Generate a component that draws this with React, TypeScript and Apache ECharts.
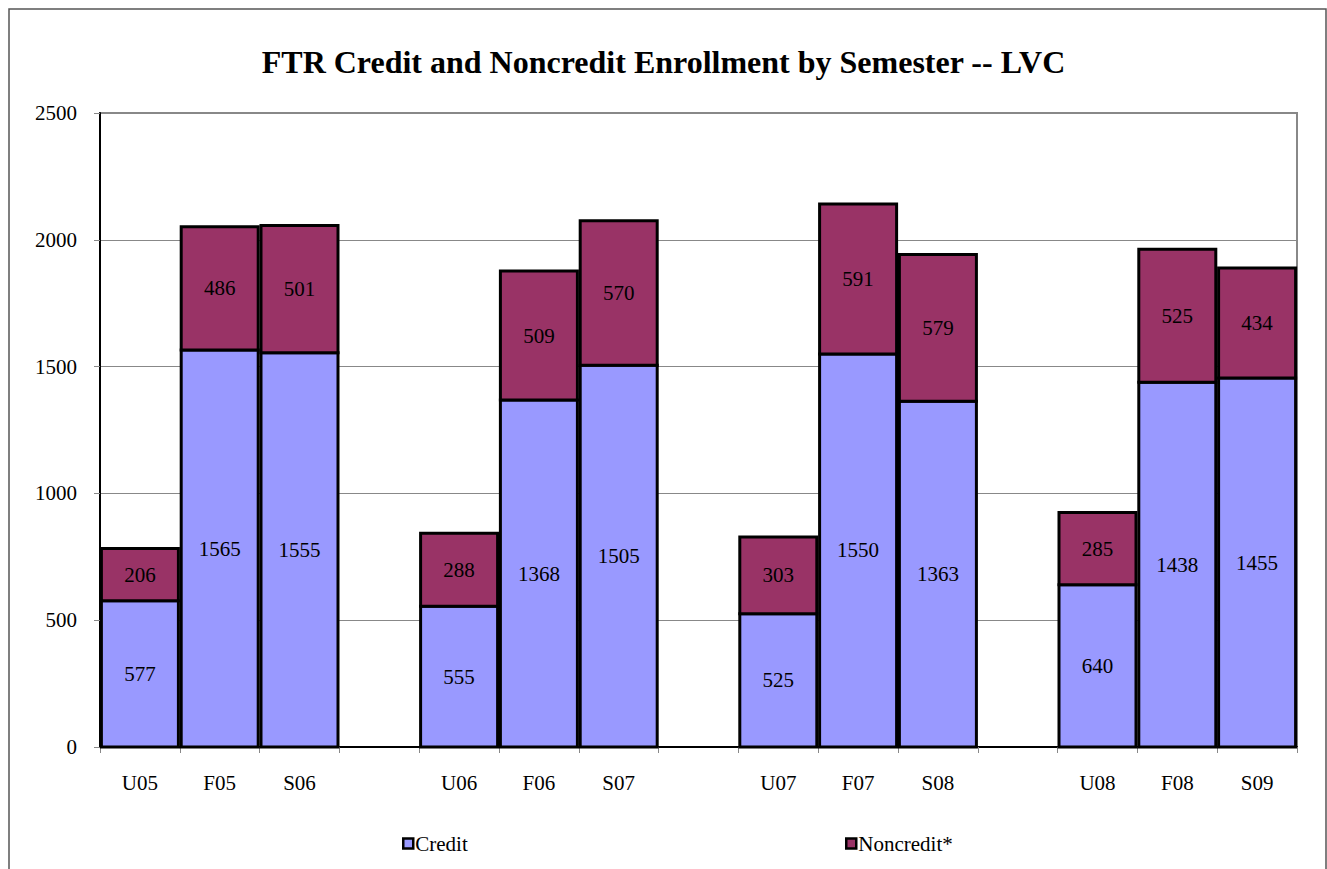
import React, { useEffect, useRef } from "react";
import * as echarts from "echarts";

const categories = ["U05", "F05", "S06", "", "U06", "F06", "S07", "", "U07", "F07", "S08", "", "U08", "F08", "S09"];
const creditValues = [577, 1565, 1555, null, 555, 1368, 1505, null, 525, 1550, 1363, null, 640, 1438, 1455];
const noncreditValues = [206, 486, 501, null, 288, 509, 570, null, 303, 591, 579, null, 285, 525, 434];
const yTicks = { min: 0, max: 2500, interval: 500 };
const titleText = "FTR Credit and Noncredit Enrollment by Semester -- LVC";

const FONT = "'Liberation Serif', 'Times New Roman', serif";
const CREDIT_COLOR = "#9999FF";
const NONCREDIT_COLOR = "#993366";

export default function App() {
  const ref = useRef<HTMLDivElement>(null);
  useEffect(() => {
    const chart = echarts.init(ref.current!, null, { renderer: "svg" });

    const creditData: any[] = [];
    const noncreditData: any[] = [];
    categories.forEach((_, i) => {
      const c = creditValues[i];
      const n = noncreditValues[i];
      if (c != null) creditData.push([i, 0, c, c]);
      if (c != null && n != null) noncreditData.push([i, c, c + n, n]);
    });

    const makeRender = (fill: string) => (params: any, api: any) => {
      const i = api.value(0);
      const lo = api.coord([i, api.value(1)]);
      const hi = api.coord([i, api.value(2)]);
      const w = api.size([1, 0])[0] * 0.965;
      return {
        type: "rect",
        shape: { x: lo[0] - w / 2, y: hi[1], width: w, height: lo[1] - hi[1] },
        style: { fill, stroke: "#000", lineWidth: 3 },
        textContent: {
          style: {
            text: String(api.value(3)),
            fontFamily: FONT,
            fontSize: 21,
            fill: "#000",
          },
        },
        textConfig: { position: "inside" },
      };
    };

    const legendBase = {
      top: 828,
      itemWidth: 10,
      itemHeight: 10,
      itemGap: 2,
      icon: "rect",
      textStyle: { fontFamily: FONT, fontSize: 21, color: "#000", padding: [0, 0, 0, -3] },
    };

    chart.setOption({
      animation: false,
      backgroundColor: "#fff",
      title: {
        text: titleText,
        left: "center",
        top: 41,
        textStyle: { fontFamily: FONT, fontSize: 32, fontWeight: "bold", color: "#000" },
      },
      graphic: [
        {
          type: "rect",
          shape: { x: 9, y: 9, width: 1317, height: 900 },
          style: { fill: "none", stroke: "#555", lineWidth: 1.5 },
          silent: true,
        },
      ],
      legend: [
        {
          ...legendBase,
          left: 397,
          data: [{ name: "Credit", itemStyle: { color: CREDIT_COLOR, borderColor: "#000", borderWidth: 2.5 } }],
        },
        {
          ...legendBase,
          left: 840,
          data: [{ name: "Noncredit*", itemStyle: { color: NONCREDIT_COLOR, borderColor: "#000", borderWidth: 2.5 } }],
        },
      ],
      grid: {
        left: 100,
        right: 30,
        top: 113,
        bottom: 122,
        show: true,
        borderColor: "#888",
        borderWidth: 2,
        backgroundColor: "transparent",
      },
      xAxis: {
        type: "category",
        data: categories,
        boundaryGap: true,
        axisLine: { lineStyle: { color: "#000", width: 2 } },
        axisTick: { show: true, interval: 0, length: 6, lineStyle: { color: "#888", width: 1 } },
        axisLabel: { interval: 0, margin: 25, fontFamily: FONT, fontSize: 21, color: "#000" },
        splitLine: { show: false },
      },
      yAxis: {
        type: "value",
        min: yTicks.min,
        max: yTicks.max,
        interval: yTicks.interval,
        axisLine: { show: true, lineStyle: { color: "#000", width: 2 } },
        axisTick: { show: true, length: 6, lineStyle: { color: "#888", width: 1 } },
        axisLabel: {
          margin: 23,
          fontFamily: FONT,
          fontSize: 21,
          color: "#000",
          formatter: (v: number) => String(v),
        },
        splitLine: { show: true, lineStyle: { color: "#888", width: 1 } },
      },
      series: [
        {
          name: "Credit",
          type: "custom",
          data: creditData,
          encode: { x: 0, y: [1, 2] },
          itemStyle: { color: CREDIT_COLOR, borderColor: "#000", borderWidth: 2.5 },
          renderItem: makeRender(CREDIT_COLOR),
          z: 3,
        },
        {
          name: "Noncredit*",
          type: "custom",
          data: noncreditData,
          encode: { x: 0, y: [1, 2] },
          itemStyle: { color: NONCREDIT_COLOR, borderColor: "#000", borderWidth: 2.5 },
          renderItem: makeRender(NONCREDIT_COLOR),
          z: 3,
        },
      ],
    });
    return () => chart.dispose();
  }, []);
  return (
    <div
      ref={ref}
      style={{ position: "fixed", left: 0, top: 0, width: 1327, height: 869 }}
    />
  );
}
